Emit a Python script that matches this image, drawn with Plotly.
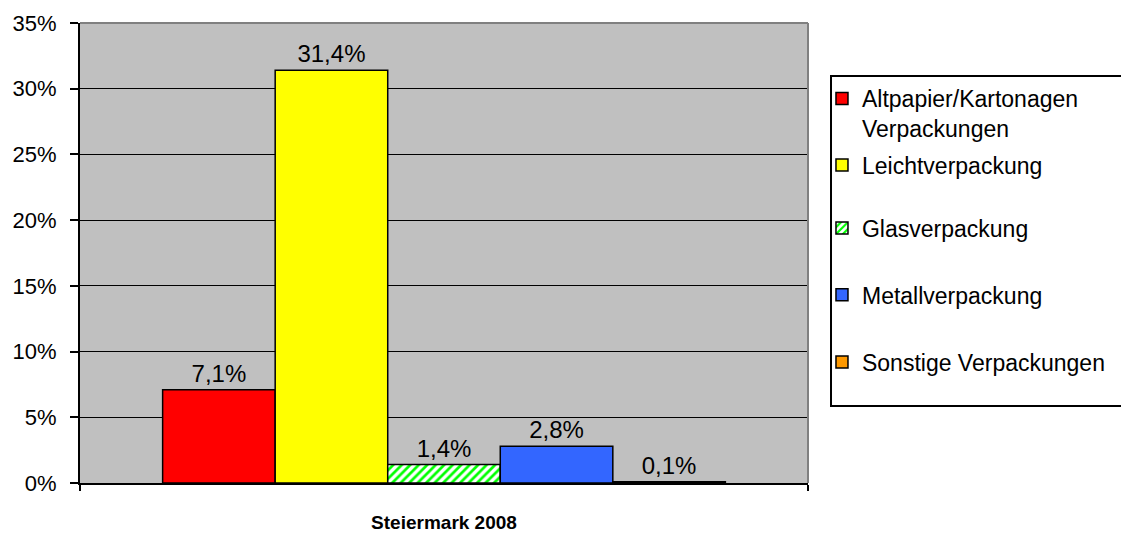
import plotly.graph_objects as go

region = ["Steiermark 2008"]
names = ["Altpapier/Kartonagen<br>Verpackungen", "Leichtverpackung", "Glasverpackung",
         "Metallverpackung", "Sonstige Verpackungen"]
shares = [0.071, 0.314, 0.014, 0.028, 0.001]
colors = ["#FF0000", "#FFFF00", "#00FF00", "#3366FF", "#FF9900"]

# legend slot (paper y) for each series, one legend per series
legend_ids = ["legend", "legend2", "legend3", "legend4", "legend5"]
legend_y = [0.8826, 0.691, 0.554, 0.409, 0.263]

fig = go.Figure()
for i in range(len(names)):
    marker = dict(color=colors[i], line=dict(color="black", width=1.5))
    if names[i] == "Glasverpackung":
        marker["pattern"] = dict(shape="/", fgcolor="#00FF00", bgcolor="white",
                                 size=6, solidity=0.45, fillmode="replace")
    fig.add_trace(go.Bar(
        x=region, y=[shares[i]], name=names[i], marker=marker,
        texttemplate="%{y:.1%}", textposition="outside",
        textfont=dict(size=24, color="black"), cliponaxis=False,
        legend=legend_ids[i],
    ))

fnt = "Liberation Sans, Arial, sans-serif"
leg = dict(x=1.0192, xanchor="left", yanchor="middle", bgcolor="rgba(0,0,0,0)",
           font=dict(size=23, color="black", family=fnt), valign="top")

# page body has an 8px margin, so the margins are shifted to compensate
fig.update_layout(
    width=1129, height=534,
    margin=dict(l=72, r=329, t=15, b=59, autoexpand=False),
    paper_bgcolor="white", plot_bgcolor="#C0C0C0",
    font=dict(family=fnt, color="black"),
    separators=",.",
    barmode="group", bargap=0.227, bargroupgap=0,
    showlegend=True,
    legend=dict(leg, y=legend_y[0], yanchor="top"),
    legend2=dict(leg, y=legend_y[1]),
    legend3=dict(leg, y=legend_y[2]),
    legend4=dict(leg, y=legend_y[3]),
    legend5=dict(leg, y=legend_y[4]),
    shapes=[
        dict(type="line", xref="paper", yref="paper", x0=0, x1=1, y0=1, y1=1,
             line=dict(color="#808080", width=2)),
        dict(type="line", xref="paper", yref="paper", x0=1, x1=1, y0=0, y1=1,
             line=dict(color="#808080", width=2)),
        dict(type="rect", xref="paper", yref="paper", x0=1.0316, x1=1.46,
             y0=0.1674, y1=0.8848, line=dict(color="black", width=2)),
    ],
)

fig.update_yaxes(
    range=[0, 0.35], dtick=0.05, tickformat=".0%",
    showgrid=True, gridcolor="black", gridwidth=1,
    showline=True, linecolor="black", linewidth=2,
    ticks="outside", ticklen=8, tickwidth=2, tickcolor="black",
    tickfont=dict(size=22, color="black"), ticklabelstandoff=9,
    zeroline=False, automargin=False,
)
fig.update_xaxes(
    showline=True, linecolor="black", linewidth=2,
    ticks="outside", tickson="boundaries", ticklen=6, tickwidth=2, tickcolor="black",
    tickfont=dict(size=19, color="black", weight="bold"), ticklabelstandoff=21,
    showgrid=False, automargin=False,
)

fig.write_html("out.html")
